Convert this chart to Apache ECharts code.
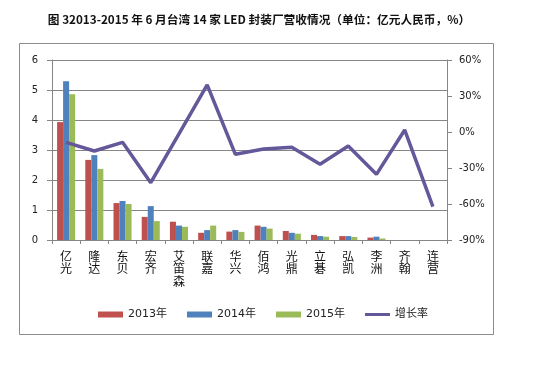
<!DOCTYPE html>
<html><head><meta charset="utf-8">
<script src="https://cdn.jsdelivr.net/npm/echarts@6/dist/echarts.min.js"></script>
<style>html,body{margin:0;padding:0;background:#fff;}#c{width:547px;height:377px;}</style>
</head><body><div id="c"></div>
<script>
const categories = ['亿光','隆达','东贝','宏齐','艾笛森','联嘉','华兴','佰鸿','光鼎','立碁','弘凯','李洲','齐翰','连营'];
const rev2013 = [3.93, 2.67, 1.23, 0.77, 0.61, 0.24, 0.28, 0.48, 0.30, 0.17, 0.13, 0.08, null, null];
const rev2014 = [5.29, 2.83, 1.30, 1.13, 0.48, 0.33, 0.33, 0.44, 0.24, 0.13, 0.13, 0.11, null, null];
const rev2015 = [4.86, 2.37, 1.20, 0.63, 0.44, 0.48, 0.27, 0.38, 0.21, 0.11, 0.10, 0.05, null, null];
const growth = [-8.6, -15.8, -8.6, -42.2, -1.5, 39.2, -18.6, -14.2, -12.8, -26.9, -11.7, -35.3, 1.7, -62.2];
const leftTicks = {min: 0, max: 6, interval: 1};
const rightTicks = {min: -90, max: 60, interval: 30};

const chart = echarts.init(document.getElementById('c'), null, {renderer: 'canvas'});
const axisFont = {fontFamily: 'DejaVu Sans', fontSize: 10, color: '#222'};
const grayLine = {color: '#868686', width: 1};
const lineColor = '#65589A';
chart.setOption({
  animation: false,
  backgroundColor: '#fff',
  title: {
    text: '图 32013-2015 年 6 月台湾 14 家 LED 封装厂营收情况（单位：亿元人民币，%）',
    left: 254, textAlign: 'center', top: 9,
    textStyle: {fontFamily: 'Noto Sans CJK SC', fontWeight: 'bold', fontSize: 11.7, color: '#111'}
  },
  graphic: [{type: 'rect', shape: {x: 19.5, y: 43.5, width: 474, height: 291}, style: {fill: 'none', stroke: '#8c8c8c', lineWidth: 1}, silent: true}],
  grid: {left: 52, right: 100, top: 60, bottom: 137},
  legend: {
    left: 93, top: 304, itemGap: 20, itemWidth: 25, itemHeight: 6,
    textStyle: {fontFamily: 'DejaVu Sans, Noto Sans CJK SC', fontSize: 11, color: '#222'},
    data: [
      {name: '2013年', icon: 'rect'},
      {name: '2014年', icon: 'rect'},
      {name: '2015年', icon: 'rect'},
      {name: '增长率', icon: 'path://M0,0L0.01,0ZM25,6L24.99,6ZM0,1.5L25,1.5L25,4.5L0,4.5Z', itemStyle: {color: lineColor}}
    ]
  },
  xAxis: {
    type: 'category', data: categories,
    axisLine: {lineStyle: grayLine},
    axisTick: {show: true, length: 4, lineStyle: grayLine},
    axisLabel: {
      interval: 0, margin: 10,
      fontFamily: 'Noto Sans CJK SC', fontSize: 12, lineHeight: 12.5, color: '#111',
      formatter: v => v.split('').join('\n')
    }
  },
  yAxis: [
    {
      type: 'value', min: leftTicks.min, max: leftTicks.max, interval: leftTicks.interval,
      axisLine: {show: true, lineStyle: grayLine},
      axisTick: {show: true, inside: false, length: 5, lineStyle: grayLine},
      splitLine: {show: true, lineStyle: grayLine},
      axisLabel: Object.assign({margin: 14}, axisFont)
    },
    {
      type: 'value', position: 'right', min: rightTicks.min, max: rightTicks.max, interval: rightTicks.interval,
      axisLine: {show: true, lineStyle: grayLine},
      axisTick: {show: true, length: 5, lineStyle: grayLine},
      splitLine: {show: false},
      axisLabel: Object.assign({margin: 12, formatter: '{value}%'}, axisFont)
    }
  ],
  series: [
    {name: '2013年', type: 'bar', data: rev2013, barGap: '0%', barCategoryGap: '36%', itemStyle: {color: '#C0504D'}},
    {name: '2014年', type: 'bar', data: rev2014, barGap: '0%', barCategoryGap: '36%', itemStyle: {color: '#4F81BD'}},
    {name: '2015年', type: 'bar', data: rev2015, barGap: '0%', barCategoryGap: '36%', itemStyle: {color: '#9BBB59'}},
    {name: '增长率', type: 'line', yAxisIndex: 1, data: growth, symbol: 'none',
     lineStyle: {color: lineColor, width: 3.5}, itemStyle: {color: lineColor}}
  ]
});
</script></body></html>
